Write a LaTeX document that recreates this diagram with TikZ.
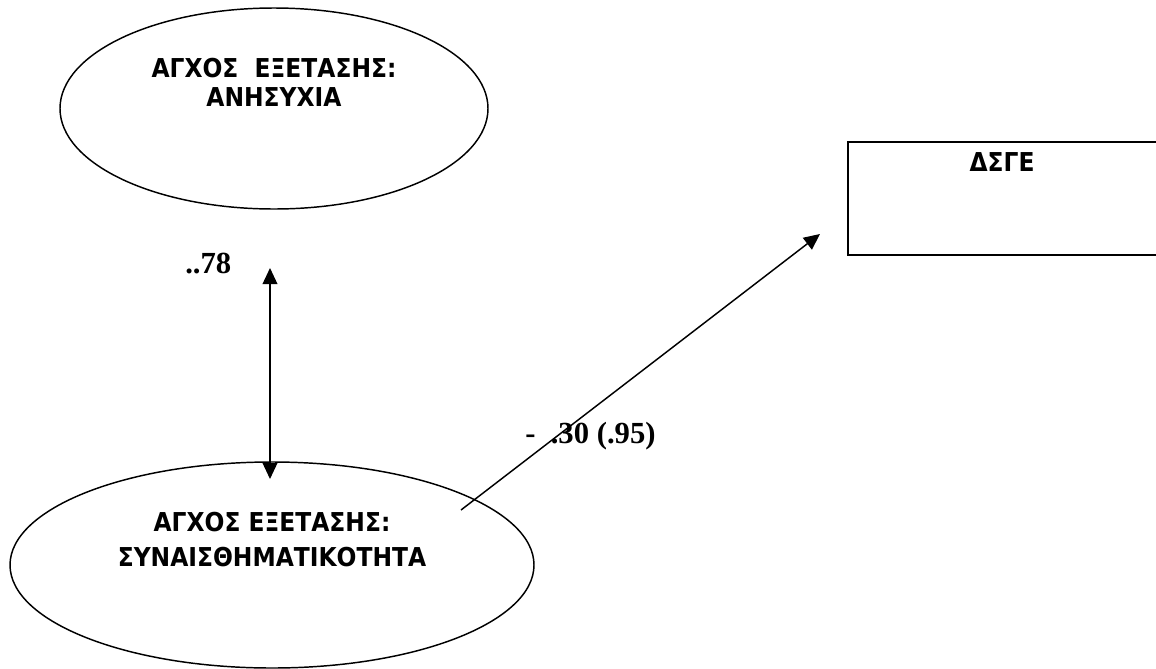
\documentclass[tikz,border=0pt]{standalone}
\usepackage{fontspec}
\usetikzlibrary{shapes.geometric,arrows.meta}
\newfontfamily\dejab{DejaVu Sans Condensed Bold}
\newfontfamily\tms{Liberation Serif Bold}
\begin{document}
\begin{tikzpicture}[x=0.75pt,y=-0.75pt,
  oval/.style={draw,ellipse,line width=1.1pt,inner sep=0pt},
  boxtxt/.style={font=\dejab\fontsize{19.5}{22}\selectfont,align=center,inner sep=0pt},
  coef/.style={font=\tms\fontsize{23}{26}\selectfont,inner sep=0pt,anchor=base west},
  arr/.style={line width=1.1pt,-{Triangle[width=11pt,length=12pt]}},
  darr/.style={line width=1.1pt,{Triangle[width=11pt,length=12pt]}-{Triangle[width=11pt,length=12pt]}}]
\useasboundingbox (0,0) rectangle (1156,668);
\clip (0,0) rectangle (1156,668);
% top ellipse
\node[oval,minimum width=321pt,minimum height=150.75pt] (anx) at (274,108.5) {};
\node[boxtxt] (anxt) at (274,82.5) {ΑΓΧΟΣ \ ΕΞΕΤΑΣΗΣ:\\ΑΝΗΣΥΧΙΑ};
% bottom ellipse
\node[oval,minimum width=393pt,minimum height=154.5pt] (emo) at (272,565) {};
\node[boxtxt,font=\dejab\fontsize{19.5}{26}\selectfont] (emot) at (272,539.5) {ΑΓΧΟΣ ΕΞΕΤΑΣΗΣ:\\ΣΥΝΑΙΣΘΗΜΑΤΙΚΟΤΗΤΑ};
% rectangle
\node[draw,line width=1.5pt,minimum width=240pt,minimum height=84.75pt,inner sep=0pt,anchor=north west] (dsge) at (847,141) {};
\node[boxtxt] (dsget) at (1002,162) {ΔΣΓΕ};
% connectors
\coordinate (ct) at (270,268);
\coordinate (cb) at (270,479);
\coordinate (ds) at (461,510);
\coordinate (de) at (820,234);
\draw[darr] (cb) -- (ct);
\draw[arr] (ds) -- (de);
% labels
\node[coef] (l1) at (185,273) {..78};
\node[coef] (l2) at (525,443) {-\ \ .30 (.95)};
\end{tikzpicture}
\end{document}
